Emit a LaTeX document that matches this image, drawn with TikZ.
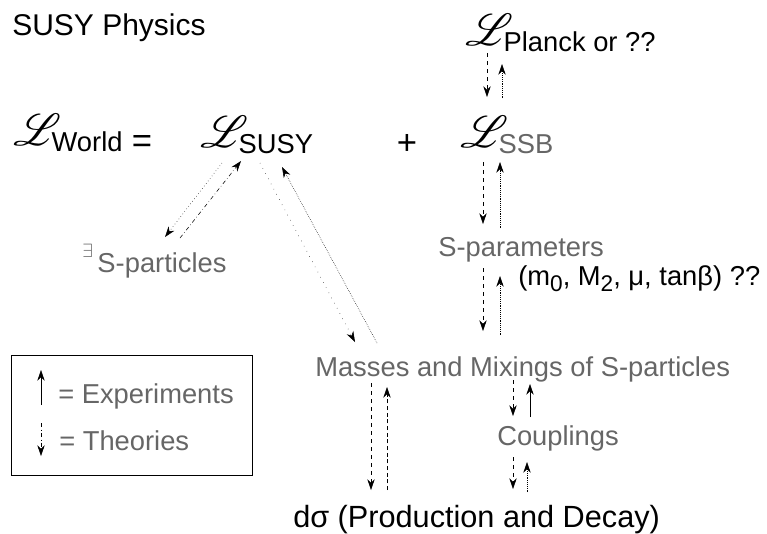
\documentclass[tikz,border=0pt]{standalone}
\usepackage{fontspec}
\setmainfont{Liberation Sans}
\usepackage{mathrsfs}
\usepackage{graphicx}
\usepackage{tikz}
\usetikzlibrary{arrows.meta, positioning, calc}
\definecolor{dithergray}{gray}{0.4}
\newcommand{\lagr}[1]{\scalebox{1.35}{\fontsize{24.88}{26}\selectfont$\mathscr{L}$}\kern-7pt\raisebox{-5pt}{#1}}

\begin{document}
\begin{tikzpicture}[x=0.75pt, y=-0.75pt, >=Stealth,
    lbl/.style={inner sep=0pt, anchor=base west, font=\fontsize{20.5}{24}\selectfont},
    dim/.style={lbl, text=dithergray},
    theory/.style={thin, dashed, -{Stealth[length=8pt, width=5.5pt]}},
    exper/.style={thin, densely dotted, -{Stealth[length=8pt, width=5.5pt]}},
    legendbox/.style={rectangle, draw, thin, minimum width=180.75pt, minimum height=90pt}]

    \useasboundingbox (0,0) rectangle (767,533);

    % Title
    \node[lbl, font=\fontsize{22.5}{26}\selectfont] (title) at (12,35) {SUSY Physics};

    % Lagrangians
    \node[lbl] (world_lag) at (13,145) {\lagr{World}};
    \node[lbl, font=\fontsize{26}{28}\selectfont, anchor=center] (eq_sign) at (142,144) {=};
    \node[lbl] (susy_lag) at (200,147) {\lagr{SUSY}};
    \node[lbl, font=\fontsize{26}{28}\selectfont, anchor=center] (plus_sign) at (407,144) {+};
    \node[lbl] (ssb_lag) at (460,147) {\lagr{\textcolor{dithergray}{SSB}}};
    \node[lbl] (planck_lag) at (465,45) {\lagr{Planck or ??}};

    % Parameters, spectrum, observables
    \node[dim] (s_part) at (82,272) {\raisebox{11pt}{\fontsize{14}{14}\selectfont$\exists$}\,S-particles};
    \node[dim] (s_params) at (438,256) {S-parameters};
    \node[lbl] (params_list) at (518,285) {(m\raisebox{-5pt}{\fontsize{17}{17}\selectfont 0}, M\raisebox{-5pt}{\fontsize{17}{17}\selectfont 2}, μ, tanβ) ??};
    \node[dim] (masses) at (315,376) {Masses and Mixings of S-particles};
    \node[dim] (couplings) at (497,445) {Couplings};
    \node[lbl, font=\fontsize{23}{26}\selectfont] (xsec) at (293,527) {dσ (Production and Decay)};

    % Legend
    \node[legendbox] (legend) at (131.5,415) {};
    \node[dim] (exp_key) at (58,403) {= Experiments};
    \node[dim] (thy_key) at (59,450) {= Theories};
    \draw[thin, -{Stealth[length=8pt, width=5.5pt]}] ($(exp_key.base west)+(-17,2)$) -- ($(exp_key.base west)+(-17,-33)$);
    \draw[theory, dash dot] ($(thy_key.base west)+(-18,-27)$) -- ($(thy_key.base west)+(-18,6)$);

    % Connections
    \draw[theory] ($(planck_lag.base west)+(22,8)$) -- ($(ssb_lag.base west)+(27,-50)$);
    \draw[exper] ($(ssb_lag.base west)+(42,-49)$) -- ($(planck_lag.base west)+(37,19)$);
    \draw[theory] ($(ssb_lag.base west)+(23,15)$) -- ($(s_params.base west)+(45,-32)$);
    \draw[exper] ($(s_params.base west)+(62,-28)$) -- ($(ssb_lag.base west)+(40,15)$);
    \draw[theory] ($(s_params.base west)+(45,12)$) -- ($(masses.base west)+(168,-45)$);
    \draw[exper] ($(masses.base west)+(185,-41)$) -- ($(s_params.base west)+(62,20)$);
    \draw[theory, dotted] ($(susy_lag.base west)+(22,16)$) -- ($(s_part.base west)+(83,-35)$);
    \draw[exper, dash dot] ($(s_part.base west)+(98,-34)$) -- ($(susy_lag.base west)+(41,14)$);
    \draw[theory, loosely dotted] ($(susy_lag.base west)+(60,16)$) -- ($(masses.base west)+(40,-34)$);
    \draw[exper] ($(masses.base west)+(62,-33)$) -- ($(susy_lag.base west)+(82,20)$);
    \draw[theory] ($(masses.base west)+(56,7)$) -- ($(xsec.base west)+(78,-37)$);
    \draw[exper, densely dashed] ($(xsec.base west)+(94,-37)$) -- ($(masses.base west)+(72,11)$);
    \draw[theory] ($(masses.base west)+(198,4)$) -- ($(couplings.base west)+(16,-29)$);
    \draw[exper, solid] ($(couplings.base west)+(33,-28)$) -- ($(masses.base west)+(215,8)$);
    \draw[theory] ($(couplings.base west)+(16,12)$) -- ($(xsec.base west)+(220,-38)$);
    \draw[exper] ($(xsec.base west)+(234,-35)$) -- ($(couplings.base west)+(30,17)$);
\end{tikzpicture}
\end{document}
